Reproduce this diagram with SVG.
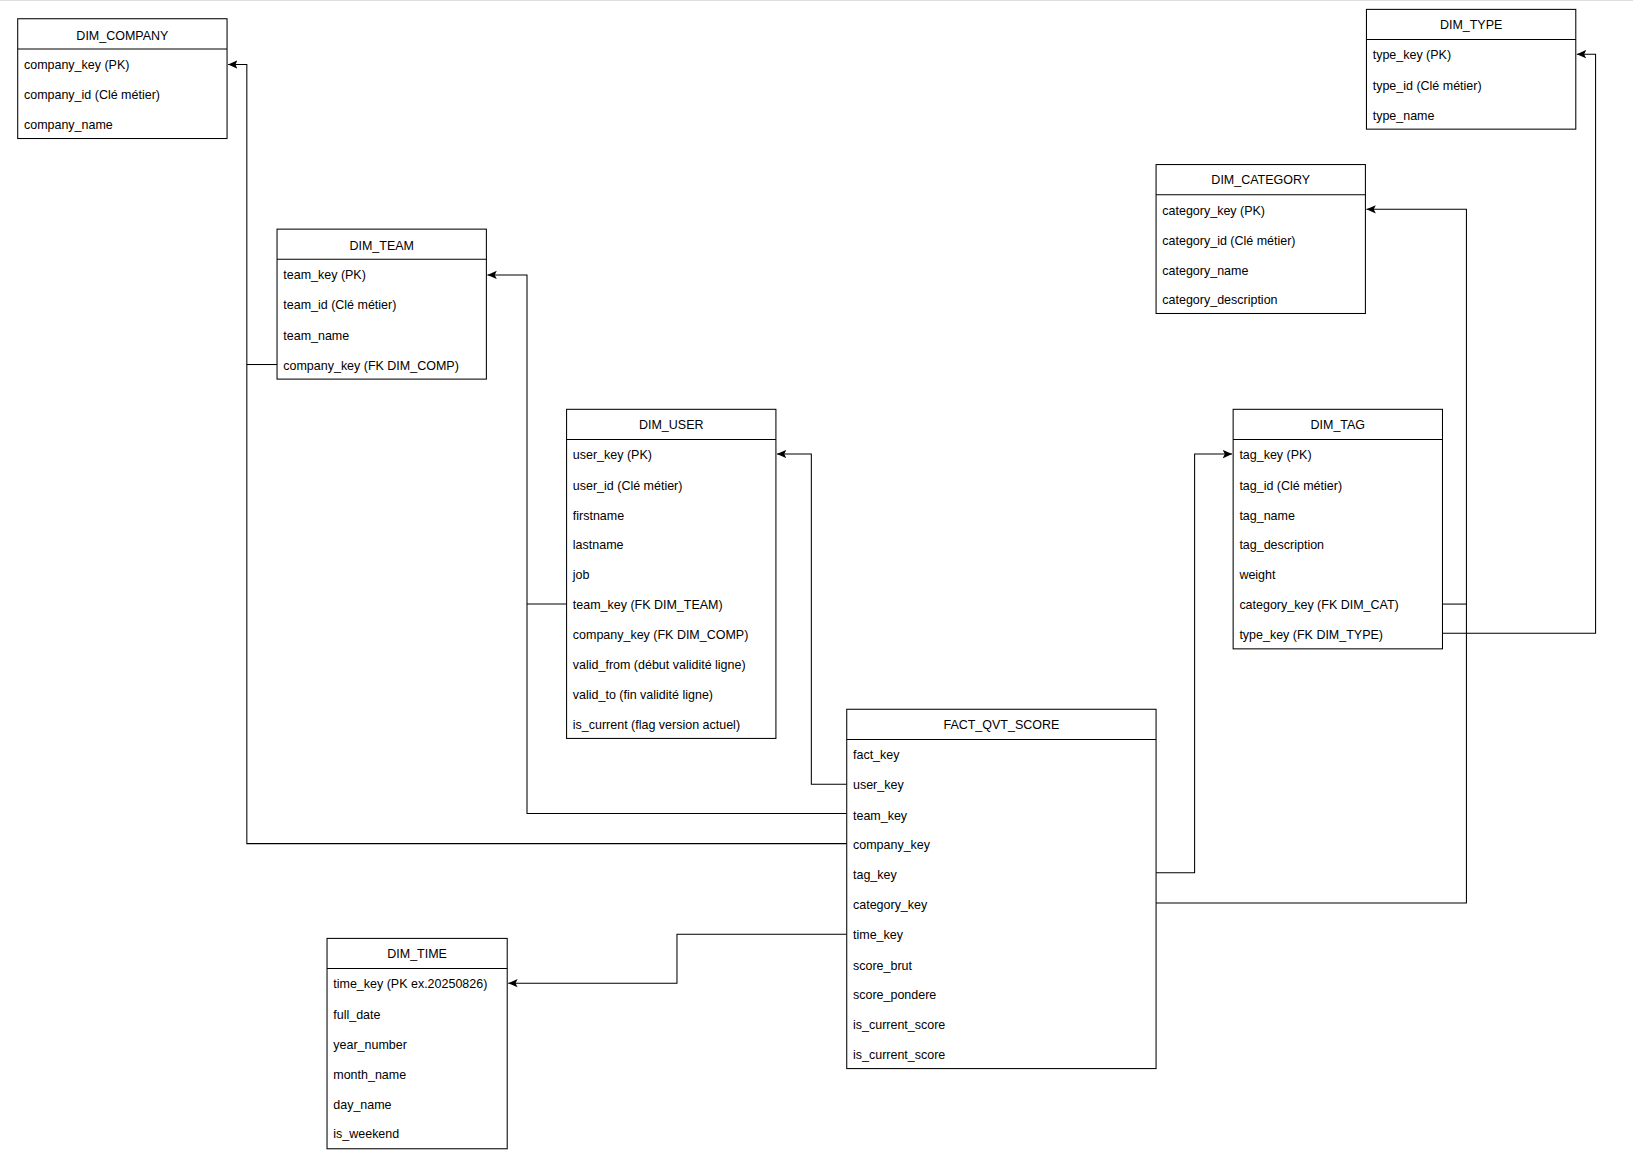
<svg xmlns="http://www.w3.org/2000/svg" width="1633" height="1167" viewBox="0 0 1633 1167">
<style>
.b{fill:#fff;stroke:#000;stroke-width:1}
.h{font-family:"Liberation Sans",Arial,sans-serif;font-size:12px;text-anchor:middle;fill:#000}
.t{font-family:"Liberation Sans",Arial,sans-serif;font-size:12px;fill:#000}
.c{fill:none;stroke:#000;stroke-width:1}
</style>
<defs><marker id="a" markerWidth="10" markerHeight="10" refX="9" refY="5" orient="auto" markerUnits="userSpaceOnUse"><path d="M0,1 L9,5 L0,9 L2,5 Z" fill="#000"/></marker></defs>
<rect width="1633" height="1167" fill="#fff"/>
<line x1="0" y1="0.5" x2="1633" y2="0.5" stroke="#ddd"/>
<g transform="scale(1.0415)">
<g id="connectors">
<polyline class="c" points="813,753 779,753 779,436 746,436" marker-end="url(#a)"/>
<polyline class="c" points="813,781 506,781 506,264 468,264" marker-end="url(#a)"/>
<polyline class="c" points="544,580 506,580"/>
<polyline class="c" points="813,810 237,810 237,62 219,62" marker-end="url(#a)"/>
<polyline class="c" points="266,350 237,350"/>
<polyline class="c" points="1110,838 1147,838 1147,436 1183,436" marker-end="url(#a)"/>
<polyline class="c" points="1110,867 1408,867 1408,201 1312,201" marker-end="url(#a)"/>
<polyline class="c" points="1385,580 1408,580"/>
<polyline class="c" points="1385,608 1532,608 1532,52 1514,52" marker-end="url(#a)"/>
<polyline class="c" points="813,897 650,897 650,944 488,944" marker-end="url(#a)"/>
</g>
<g id="dim_company"><rect class="b" x="17" y="18" width="201" height="115"/><line class="c" x1="17" y1="47" x2="218" y2="47"/>
<text class="h" x="117.5" y="38">DIM_COMPANY</text>
<text class="t" x="23" y="66">company_key (PK)</text><text class="t" x="23" y="95">company_id (Clé métier)</text><text class="t" x="23" y="124">company_name</text></g>
<g id="dim_team"><rect class="b" x="266" y="220" width="201" height="144"/><line class="c" x1="266" y1="249" x2="467" y2="249"/>
<text class="h" x="366.5" y="240">DIM_TEAM</text>
<text class="t" x="272" y="268">team_key (PK)</text><text class="t" x="272" y="297">team_id (Clé métier)</text><text class="t" x="272" y="326">team_name</text><text class="t" x="272" y="355">company_key (FK DIM_COMP)</text></g>
<g id="dim_user"><rect class="b" x="544" y="393" width="201" height="316"/><line class="c" x1="544" y1="422" x2="745" y2="422"/>
<text class="h" x="644.5" y="412">DIM_USER</text>
<text class="t" x="550" y="441">user_key (PK)</text><text class="t" x="550" y="470">user_id (Clé métier)</text><text class="t" x="550" y="499">firstname</text><text class="t" x="550" y="527">lastname</text><text class="t" x="550" y="556">job</text><text class="t" x="550" y="585">team_key (FK DIM_TEAM)</text><text class="t" x="550" y="614">company_key (FK DIM_COMP)</text><text class="t" x="550" y="642">valid_from (début validité ligne)</text><text class="t" x="550" y="671">valid_to (fin validité ligne)</text><text class="t" x="550" y="700">is_current (flag version actuel)</text></g>
<g id="fact_qvt_score"><rect class="b" x="813" y="681" width="297" height="345"/><line class="c" x1="813" y1="710" x2="1110" y2="710"/>
<text class="h" x="961.5" y="700">FACT_QVT_SCORE</text>
<text class="t" x="819" y="729">fact_key</text><text class="t" x="819" y="758">user_key</text><text class="t" x="819" y="787">team_key</text><text class="t" x="819" y="815">company_key</text><text class="t" x="819" y="844">tag_key</text><text class="t" x="819" y="873">category_key</text><text class="t" x="819" y="902">time_key</text><text class="t" x="819" y="931">score_brut</text><text class="t" x="819" y="959">score_pondere</text><text class="t" x="819" y="988">is_current_score</text><text class="t" x="819" y="1017">is_current_score</text></g>
<g id="dim_time"><rect class="b" x="314" y="901" width="173" height="202"/><line class="c" x1="314" y1="930" x2="487" y2="930"/>
<text class="h" x="400.5" y="920">DIM_TIME</text>
<text class="t" x="320" y="949">time_key (PK ex.20250826)</text><text class="t" x="320" y="978">full_date</text><text class="t" x="320" y="1007">year_number</text><text class="t" x="320" y="1036">month_name</text><text class="t" x="320" y="1065">day_name</text><text class="t" x="320" y="1093">is_weekend</text></g>
<g id="dim_type"><rect class="b" x="1312" y="9" width="201" height="115"/><line class="c" x1="1312" y1="38" x2="1513" y2="38"/>
<text class="h" x="1412.5" y="28">DIM_TYPE</text>
<text class="t" x="1318" y="57">type_key (PK)</text><text class="t" x="1318" y="86">type_id (Clé métier)</text><text class="t" x="1318" y="115">type_name</text></g>
<g id="dim_category"><rect class="b" x="1110" y="158" width="201" height="143"/><line class="c" x1="1110" y1="187" x2="1311" y2="187"/>
<text class="h" x="1210.5" y="177">DIM_CATEGORY</text>
<text class="t" x="1116" y="206">category_key (PK)</text><text class="t" x="1116" y="235">category_id (Clé métier)</text><text class="t" x="1116" y="264">category_name</text><text class="t" x="1116" y="292">category_description</text></g>
<g id="dim_tag"><rect class="b" x="1184" y="393" width="201" height="230"/><line class="c" x1="1184" y1="422" x2="1385" y2="422"/>
<text class="h" x="1284.5" y="412">DIM_TAG</text>
<text class="t" x="1190" y="441">tag_key (PK)</text><text class="t" x="1190" y="470">tag_id (Clé métier)</text><text class="t" x="1190" y="499">tag_name</text><text class="t" x="1190" y="527">tag_description</text><text class="t" x="1190" y="556">weight</text><text class="t" x="1190" y="585">category_key (FK DIM_CAT)</text><text class="t" x="1190" y="614">type_key (FK DIM_TYPE)</text></g>
</g>
</svg>
